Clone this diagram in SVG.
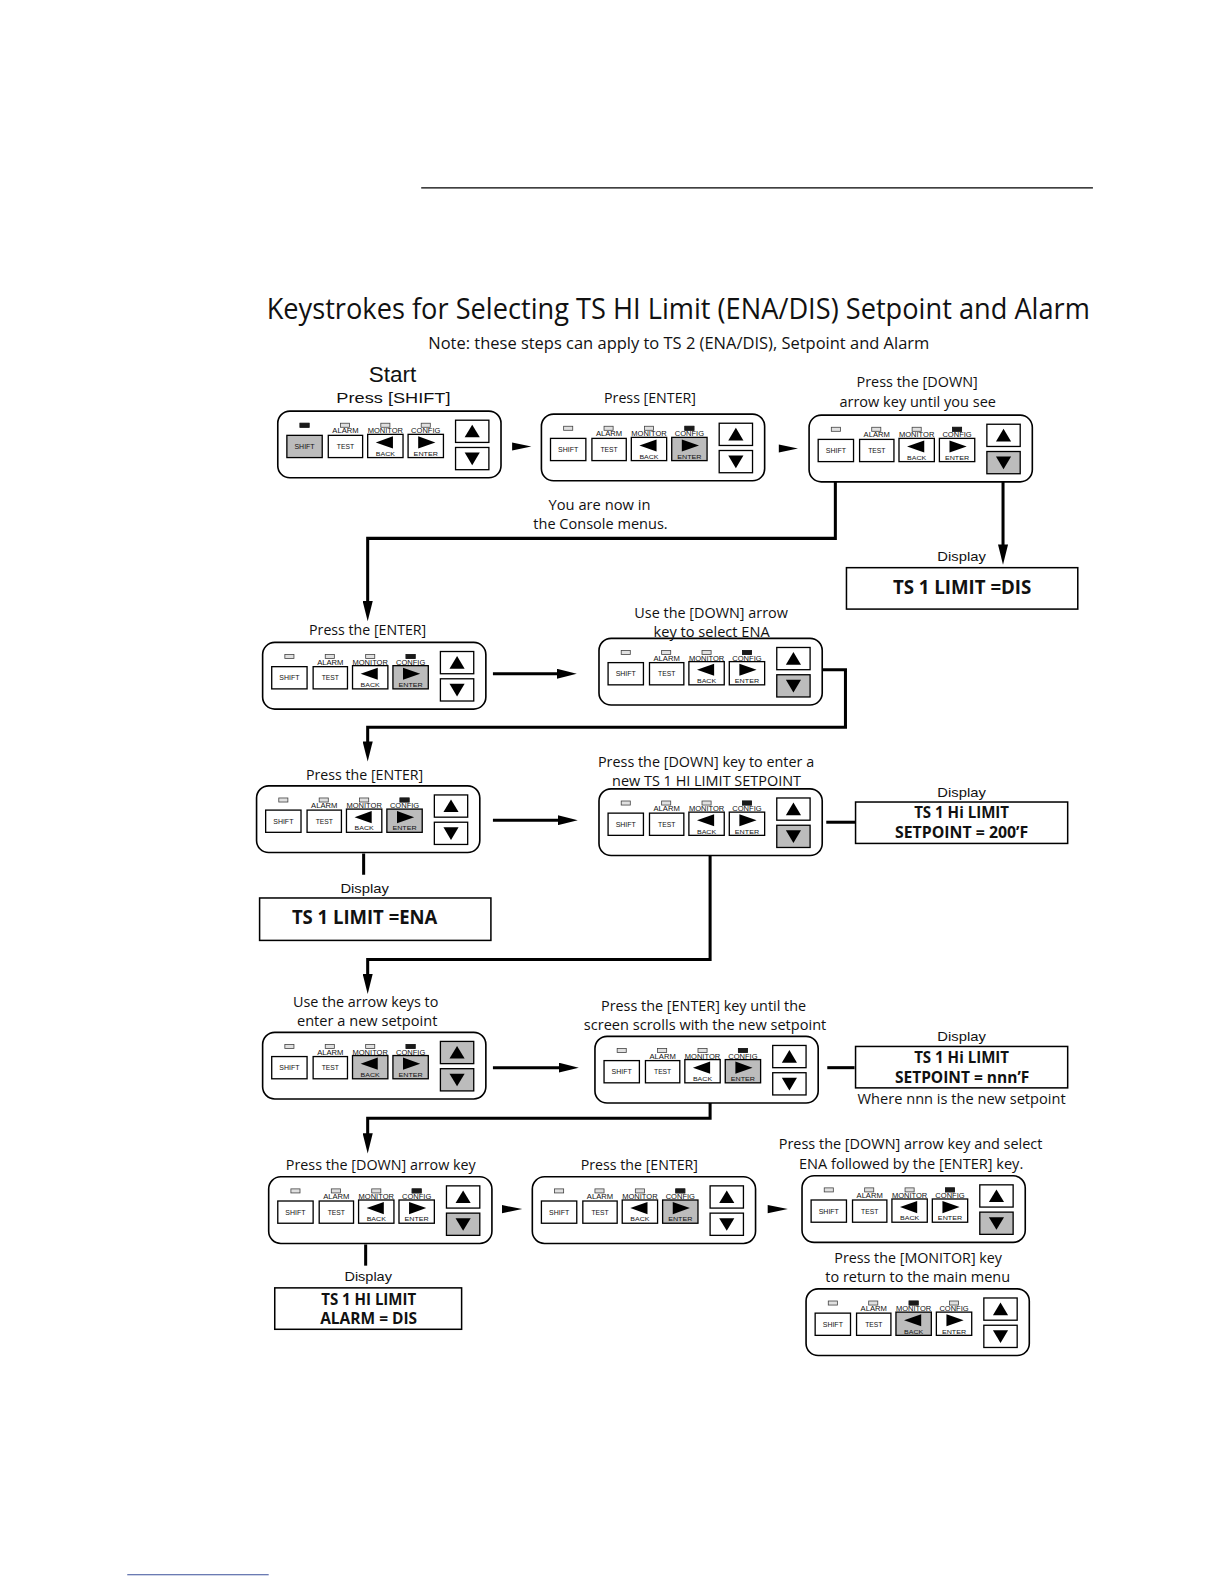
<svg xmlns="http://www.w3.org/2000/svg" xmlns:xlink="http://www.w3.org/1999/xlink" width="1224" height="1584" viewBox="0 0 1224 1584">
<defs>
<style>
.t{font-family:"Open Sans","Noto Sans","Liberation Sans",sans-serif;fill:#111}
.a{font-family:"Liberation Sans",Arial,sans-serif;fill:#111}
.b{font-family:"Open Sans","Noto Sans","Liberation Sans",sans-serif;font-weight:bold;fill:#111}
.k{font-family:"Liberation Sans",Arial,sans-serif;fill:#111;text-anchor:middle}
.frame{fill:#fff;stroke:#000;stroke-width:1.6}
.key{fill:none;stroke:#000;stroke-width:1.3}
.led{fill:#e0e0e0;stroke:#444;stroke-width:0.8}
.on{fill:#bcbcbc}
.ledon{fill:#1a1a1a;stroke:#1a1a1a;stroke-width:0.8}
.box{fill:#fff;stroke:#000;stroke-width:1.5}
.con{fill:none;stroke:#000;stroke-width:3}
.thin{fill:none;stroke:#000;stroke-width:1}
</style>
<marker id="ah" viewBox="0 0 20 10" refX="2" refY="5" markerWidth="20" markerHeight="10" markerUnits="userSpaceOnUse" orient="auto">
<path d="M0,0 L20,5 L0,10 z" fill="#000"/>
</marker>
<g id="kpframe">
<rect class="frame" x="0" y="0" width="221" height="66" rx="12"/>
</g>
<g id="kpkeys">
<rect class="key" x="9" y="24" width="35" height="22"/>
<rect class="key" x="50" y="24" width="34" height="22"/>
<rect class="key" x="89" y="23" width="35" height="23"/>
<rect class="key" x="129" y="23" width="35" height="23"/>
<rect class="key" x="176" y="9" width="33" height="22"/>
<rect class="key" x="176" y="36" width="33" height="22"/>
<rect class="led" x="22" y="12" width="9" height="4"/>
<rect class="led" x="62" y="12" width="9" height="4"/>
<rect class="led" x="102" y="12" width="9" height="4"/>
<rect class="led" x="142" y="12" width="9" height="4"/>
<text class="k" x="67" y="22" font-size="6.5" textLength="26" lengthAdjust="spacingAndGlyphs">ALARM</text>
<text class="k" x="106.5" y="22" font-size="6.5" textLength="35" lengthAdjust="spacingAndGlyphs">MONITOR</text>
<text class="k" x="146.5" y="22" font-size="6.5" textLength="29" lengthAdjust="spacingAndGlyphs">CONFIG</text>
<text class="k" x="26.5" y="37.5" font-size="6.5" textLength="20" lengthAdjust="spacingAndGlyphs">SHIFT</text>
<text class="k" x="67" y="37.5" font-size="6.5" textLength="17" lengthAdjust="spacingAndGlyphs">TEST</text>
<polygon points="97,31 114,25 114,37" fill="#000"/>
<text class="k" x="106.5" y="44.2" font-size="6" textLength="19" lengthAdjust="spacingAndGlyphs">BACK</text>
<polygon points="156,31 139,25 139,37" fill="#000"/>
<text class="k" x="146.5" y="44.2" font-size="6" textLength="24" lengthAdjust="spacingAndGlyphs">ENTER</text>
<polygon points="192.5,13.5 185,26 200,26" fill="#000"/>
<polygon points="192.5,53.5 185,41 200,41" fill="#000"/>
</g>
</defs>
<rect width="1224" height="1584" fill="#fff"/>
<g transform="scale(1.0101)">

<path class="thin" d="M417,186 H1082"/>
<path d="M126,1559 H266" fill="none" stroke="#3a4f9a" stroke-width="1"/>

<text class="t" x="264" y="316" style="font-size:28px" textLength="815" lengthAdjust="spacingAndGlyphs">Keystrokes for Selecting TS HI Limit (ENA/DIS) Setpoint and Alarm</text>
<text class="t" x="424" y="346" style="font-size:17px" textLength="496" lengthAdjust="spacingAndGlyphs">Note: these steps can apply to TS 2 (ENA/DIS), Setpoint and Alarm</text>

<!-- connectors -->
<g id="connectors">
<polygon points="507,438 526,442 507,446" fill="#000"/>
<polygon points="771,440 790,444 771,448" fill="#000"/>
<path class="con" d="M827,477 V533 H364 V597" marker-end="url(#ah)"/>
<path class="con" d="M993,477 V541" marker-end="url(#ah)"/>
<path class="con" d="M488,667 H553" marker-end="url(#ah)"/>
<path class="con" d="M813,663 H837 V720 H364 V736" marker-end="url(#ah)"/>
<path class="con" d="M488,812 H554" marker-end="url(#ah)"/>
<path class="con" d="M818,814 H847"/>
<path class="con" d="M360,845 V866"/>
<path class="con" d="M703,847 V950 H364 V966" marker-end="url(#ah)"/>
<path class="con" d="M488,1057 H555" marker-end="url(#ah)"/>
<path class="con" d="M819,1057 H846"/>
<path class="con" d="M703,1092 V1107 H364 V1124" marker-end="url(#ah)"/>
<polygon points="497,1193 517,1197 497,1201" fill="#000"/>
<polygon points="760,1193 780,1197 760,1201" fill="#000"/>
<path class="con" d="M362,1232 V1253"/>
</g>

<!-- keypads -->
<g id="kp1" transform="translate(275,407)">
<use xlink:href="#kpframe" href="#kpframe"/>
<rect class="on" x="9" y="24" width="35" height="22"/>
<use xlink:href="#kpkeys" href="#kpkeys"/>
<rect class="ledon" x="22" y="12" width="9" height="4"/>
</g>
<g id="kp2" transform="translate(536,410)">
<use xlink:href="#kpframe" href="#kpframe"/>
<rect class="on" x="129" y="23" width="35" height="23"/>
<use xlink:href="#kpkeys" href="#kpkeys"/>
<rect class="ledon" x="142" y="12" width="9" height="4"/>
</g>
<g id="kp3" transform="translate(801,411)">
<use xlink:href="#kpframe" href="#kpframe"/>
<rect class="on" x="176" y="36" width="33" height="22"/>
<use xlink:href="#kpkeys" href="#kpkeys"/>
<rect class="ledon" x="142" y="12" width="9" height="4"/>
</g>
<g id="kp4" transform="translate(260,636)">
<use xlink:href="#kpframe" href="#kpframe"/>
<rect class="on" x="129" y="23" width="35" height="23"/>
<use xlink:href="#kpkeys" href="#kpkeys"/>
<rect class="ledon" x="142" y="12" width="9" height="4"/>
</g>
<g id="kp5" transform="translate(593,632)">
<use xlink:href="#kpframe" href="#kpframe"/>
<rect class="on" x="176" y="36" width="33" height="22"/>
<use xlink:href="#kpkeys" href="#kpkeys"/>
<rect class="ledon" x="142" y="12" width="9" height="4"/>
</g>
<g id="kp6" transform="translate(254,778)">
<use xlink:href="#kpframe" href="#kpframe"/>
<rect class="on" x="129" y="23" width="35" height="23"/>
<use xlink:href="#kpkeys" href="#kpkeys"/>
<rect class="ledon" x="142" y="12" width="9" height="4"/>
</g>
<g id="kp7" transform="translate(593,781)">
<use xlink:href="#kpframe" href="#kpframe"/>
<rect class="on" x="176" y="36" width="33" height="22"/>
<use xlink:href="#kpkeys" href="#kpkeys"/>
<rect class="ledon" x="142" y="12" width="9" height="4"/>
</g>
<g id="kp8" transform="translate(260,1022)">
<use xlink:href="#kpframe" href="#kpframe"/>
<rect class="on" x="89" y="23" width="35" height="23"/>
<rect class="on" x="129" y="23" width="35" height="23"/>
<rect class="on" x="176" y="9" width="33" height="22"/>
<rect class="on" x="176" y="36" width="33" height="22"/>
<use xlink:href="#kpkeys" href="#kpkeys"/>
<rect class="ledon" x="142" y="12" width="9" height="4"/>
</g>
<g id="kp9" transform="translate(589,1026)">
<use xlink:href="#kpframe" href="#kpframe"/>
<rect class="on" x="129" y="23" width="35" height="23"/>
<use xlink:href="#kpkeys" href="#kpkeys"/>
<rect class="ledon" x="142" y="12" width="9" height="4"/>
</g>
<g id="kp10" transform="translate(266,1165)">
<use xlink:href="#kpframe" href="#kpframe"/>
<rect class="on" x="176" y="36" width="33" height="22"/>
<use xlink:href="#kpkeys" href="#kpkeys"/>
<rect class="ledon" x="142" y="12" width="9" height="4"/>
</g>
<g id="kp11" transform="translate(527,1165)">
<use xlink:href="#kpframe" href="#kpframe"/>
<rect class="on" x="129" y="23" width="35" height="23"/>
<use xlink:href="#kpkeys" href="#kpkeys"/>
<rect class="ledon" x="142" y="12" width="9" height="4"/>
</g>
<g id="kp12" transform="translate(794,1164)">
<use xlink:href="#kpframe" href="#kpframe"/>
<rect class="on" x="176" y="36" width="33" height="22"/>
<use xlink:href="#kpkeys" href="#kpkeys"/>
<rect class="ledon" x="142" y="12" width="9" height="4"/>
</g>
<g id="kp13" transform="translate(798,1276)">
<use xlink:href="#kpframe" href="#kpframe"/>
<rect class="on" x="89" y="23" width="35" height="23"/>
<use xlink:href="#kpkeys" href="#kpkeys"/>
<rect class="ledon" x="102" y="12" width="9" height="4"/>
</g>

<!-- display boxes -->
<g id="disp1">
<text class="a" x="928" y="555" font-size="13" textLength="48" lengthAdjust="spacingAndGlyphs">Display</text>
<rect class="box" x="838" y="562" width="229" height="41"/>
<text class="b" x="884" y="588" font-size="19" textLength="137" lengthAdjust="spacingAndGlyphs">TS 1 LIMIT =DIS</text>
</g>
<g id="disp2">
<text class="a" x="928" y="789" font-size="13" textLength="48" lengthAdjust="spacingAndGlyphs">Display</text>
<rect class="box" x="847" y="794" width="210" height="41"/>
<text class="b" x="905" y="810" font-size="15" textLength="94" lengthAdjust="spacingAndGlyphs">TS 1 Hi LIMIT</text>
<text class="b" x="886" y="830" font-size="15" textLength="132" lengthAdjust="spacingAndGlyphs">SETPOINT = 200’F</text>
</g>
<g id="disp3">
<text class="a" x="337" y="884" font-size="13" textLength="48" lengthAdjust="spacingAndGlyphs">Display</text>
<rect class="box" x="257" y="889" width="229" height="42"/>
<text class="b" x="289" y="915" font-size="19" textLength="144" lengthAdjust="spacingAndGlyphs">TS 1 LIMIT =ENA</text>
</g>
<g id="disp4">
<text class="a" x="928" y="1031" font-size="13" textLength="48" lengthAdjust="spacingAndGlyphs">Display</text>
<rect class="box" x="847" y="1036" width="210" height="41"/>
<text class="b" x="905" y="1052" font-size="15" textLength="94" lengthAdjust="spacingAndGlyphs">TS 1 Hi LIMIT</text>
<text class="b" x="886" y="1072" font-size="15" textLength="133" lengthAdjust="spacingAndGlyphs">SETPOINT = nnn’F</text>
<text class="t" x="849" y="1093" font-size="15" textLength="206" lengthAdjust="spacingAndGlyphs">Where nnn is the new setpoint</text>
</g>
<g id="disp5">
<text class="a" x="341" y="1268" font-size="13" textLength="47" lengthAdjust="spacingAndGlyphs">Display</text>
<rect class="box" x="272" y="1275" width="185" height="41"/>
<text class="b" x="318" y="1292" font-size="15" textLength="94" lengthAdjust="spacingAndGlyphs">TS 1 HI LIMIT</text>
<text class="b" x="317" y="1311" font-size="15" textLength="96" lengthAdjust="spacingAndGlyphs">ALARM = DIS</text>
</g>

<!-- step labels -->
<g id="labels" font-size="15">
<text class="a" x="365" y="378" font-size="22" textLength="47" lengthAdjust="spacingAndGlyphs">Start</text>
<text class="a" x="333" y="399" font-size="14" textLength="113" lengthAdjust="spacingAndGlyphs">Press [SHIFT]</text>
<text class="t" x="598" y="399" textLength="91" lengthAdjust="spacingAndGlyphs">Press [ENTER]</text>
<text class="t" x="848" y="383" textLength="120" lengthAdjust="spacingAndGlyphs">Press the [DOWN]</text>
<text class="t" x="831" y="403" textLength="155" lengthAdjust="spacingAndGlyphs">arrow key until you see</text>
<text class="t" x="543" y="505" textLength="101" lengthAdjust="spacingAndGlyphs">You are now in</text>
<text class="t" x="528" y="524" textLength="133" lengthAdjust="spacingAndGlyphs">the Console menus.</text>
<text class="t" x="306" y="629" textLength="116" lengthAdjust="spacingAndGlyphs">Press the [ENTER]</text>
<text class="t" x="628" y="612" textLength="152" lengthAdjust="spacingAndGlyphs">Use the [DOWN] arrow</text>
<text class="t" x="647" y="631" textLength="115" lengthAdjust="spacingAndGlyphs">key to select ENA</text>
<text class="t" x="303" y="772" textLength="116" lengthAdjust="spacingAndGlyphs">Press the [ENTER]</text>
<text class="t" x="592" y="759" textLength="214" lengthAdjust="spacingAndGlyphs">Press the [DOWN] key to enter a</text>
<text class="t" x="606" y="778" textLength="187" lengthAdjust="spacingAndGlyphs">new TS 1 HI LIMIT SETPOINT</text>
<text class="t" x="290" y="997" textLength="144" lengthAdjust="spacingAndGlyphs">Use the arrow keys to</text>
<text class="t" x="294" y="1016" textLength="139" lengthAdjust="spacingAndGlyphs">enter a new setpoint</text>
<text class="t" x="595" y="1001" textLength="203" lengthAdjust="spacingAndGlyphs">Press the [ENTER] key until the</text>
<text class="t" x="578" y="1020" textLength="240" lengthAdjust="spacingAndGlyphs">screen scrolls with the new setpoint</text>
<text class="t" x="283" y="1158" textLength="188" lengthAdjust="spacingAndGlyphs">Press the [DOWN] arrow key</text>
<text class="t" x="575" y="1158" textLength="116" lengthAdjust="spacingAndGlyphs">Press the [ENTER]</text>
<text class="t" x="771" y="1138" textLength="261" lengthAdjust="spacingAndGlyphs">Press the [DOWN] arrow key and select</text>
<text class="t" x="791" y="1157" textLength="222" lengthAdjust="spacingAndGlyphs">ENA followed by the [ENTER] key.</text>
<text class="t" x="826" y="1250" textLength="166" lengthAdjust="spacingAndGlyphs">Press the [MONITOR] key</text>
<text class="t" x="817" y="1269" textLength="183" lengthAdjust="spacingAndGlyphs">to return to the main menu</text>
</g>
</g>
</svg>
